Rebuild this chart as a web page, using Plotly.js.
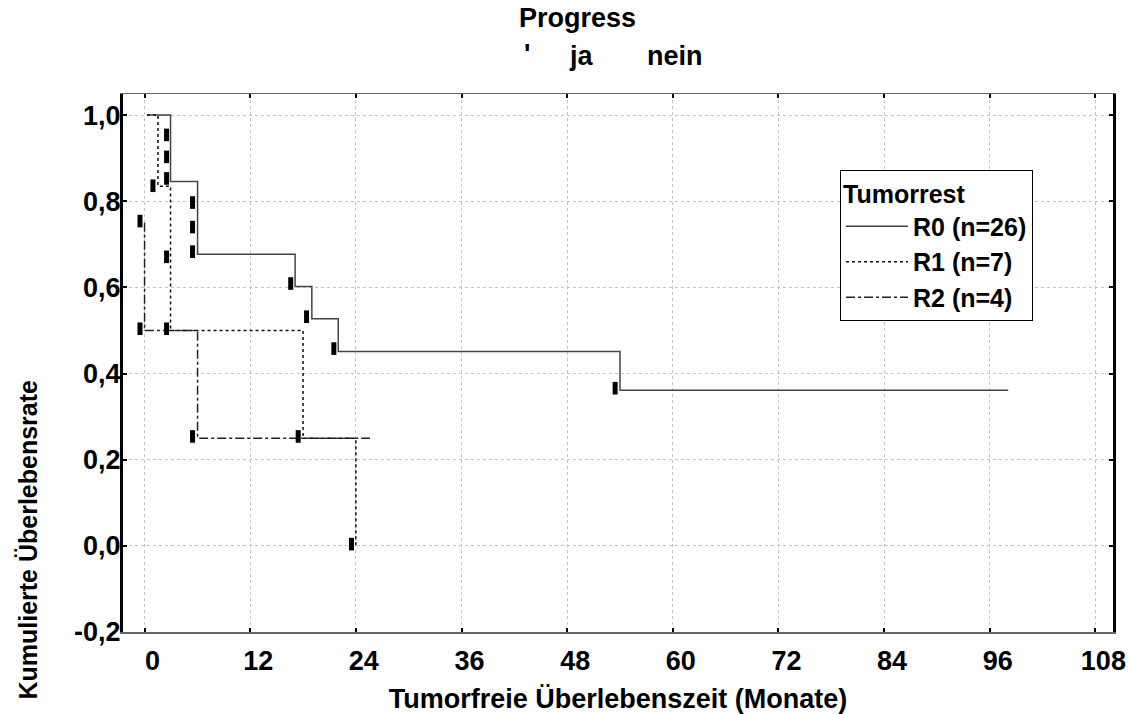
<!DOCTYPE html>
<html>
<head>
<meta charset="utf-8">
<script src="https://cdn.plot.ly/plotly-3.0.1.min.js"></script>
<style>html,body{margin:0;padding:0;background:#fff;}#chart{width:1129px;height:714px;}</style>
</head>
<body>
<div id="chart"></div>
<script>
// ---- data ----
const groupNames = ["R0 (n=26)", "R1 (n=7)", "R2 (n=4)"];

const r0Months = [0.27, 2.95, 6.02, 17.1, 19.0, 22.0, 54.0, 98.1];
const r0Surv   = [1.0, 0.846, 0.677, 0.602, 0.527, 0.451, 0.361, 0.361];

const r1Months = [0.27, 1.52, 2.95, 18.0, 24.0];
const r1Surv   = [1.0, 0.835, 0.5, 0.25, 0.0];

const r2Months = [0.0, 0.0, 6.02, 25.6];
const r2Surv   = [0.75, 0.5, 0.25, 0.25];

const r0CensMonths = [2.5, 2.5, 2.5, 5.45, 5.45, 5.45, 16.6, 18.4, 21.5, 53.45];
const r0CensSurv   = [0.954, 0.903, 0.853, 0.797, 0.740, 0.683, 0.609, 0.532, 0.458, 0.366];
const r1CensMonths = [0.95, 2.5, 2.5, 17.45, 23.5];
const r1CensSurv   = [0.836, 0.671, 0.504, 0.254, 0.004];
const r2CensMonths = [-0.52, -0.52, 5.45];
const r2CensSurv   = [0.754, 0.504, 0.254];

const xTickVals = [0, 12, 24, 36, 48, 60, 72, 84, 96, 108];
const xTickText = ["0", "12", "24", "36", "48", "60", "72", "84", "96", "108"];
const yTickVals = [-0.2, 0.0, 0.2, 0.4, 0.6, 0.8, 1.0];
const yTickText = ["-0,2", "0,0", "0,2", "0,4", "0,6", "0,8", "1,0"];

const titleLine1 = "Progress";
const titleLine2Parts = ["'", "ja", "nein"];
const xTitle = "Tumorfreie Überlebenszeit (Monate)";
const yTitle = "Kumulierte Überlebensrate";
const legendTitle = "Tumorrest";

// ---- chart ----
const FONT = "'Liberation Sans', Arial, sans-serif";
const lineStyles = [
  {color: "#444", width: 1.5, dash: "solid"},
  {color: "#111", width: 1.5, dash: "dot"},
  {color: "#222", width: 1.5, dash: "dashdot"}
];
const series = [[r0Months, r0Surv], [r1Months, r1Surv], [r2Months, r2Surv]];
const cens = [[r0CensMonths, r0CensSurv], [r1CensMonths, r1CensSurv], [r2CensMonths, r2CensSurv]];

const traces = [];
series.forEach((s, i) => {
  traces.push({
    x: s[0], y: s[1], type: "scatter", mode: "lines",
    line: Object.assign({shape: "hv"}, lineStyles[i]),
    name: groupNames[i], showlegend: true, hoverinfo: "skip"
  });
});
cens.forEach((c, i) => {
  traces.push({
    x: c[0], y: c[1], type: "scatter", mode: "markers",
    marker: {symbol: "line-ns-open", size: 9, line: {width: 5, color: "#000"}, color: "#000"},
    showlegend: false, hoverinfo: "skip"
  });
});

const pl = 123, pr = 1113, pt = 94, pb = 632.5;
const px = v => (v - pl) / (pr - pl);
const py = v => (pb - v) / (pb - pt);
const big = {family: FONT, size: 27, color: "#000", weight: "bold"};

const layout = {
  width: 1129, height: 714,
  margin: {l: pl, r: 1129 - pr, t: pt, b: 714 - pb, pad: 0},
  paper_bgcolor: "#fff", plot_bgcolor: "#fff",
  font: {family: FONT, color: "#000"},
  showlegend: true,
  legend: {
    x: px(840), y: py(170), xanchor: "left", yanchor: "top",
    bgcolor: "#fff", bordercolor: "#000", borderwidth: 1,
    font: {family: FONT, size: 25, color: "#000", weight: "bold"},
    title: {text: legendTitle, font: {family: FONT, size: 25, color: "#000", weight: "bold"}},
    tracegroupgap: 0, itemwidth: 62
  },
  xaxis: {
    range: [-2.45, 110], tickvals: xTickVals, ticktext: xTickText,
    ticks: "inside", ticklen: 4, tickwidth: 2, tickcolor: "#000",
    showline: true, linecolor: "#666", linewidth: 1.5, mirror: "ticks",
    showgrid: true, gridcolor: "#c4c4c4", griddash: "dot", gridwidth: 1,
    zeroline: false, ticklabelshift: 8, ticklabelstandoff: 4,
    tickfont: big,
    title: {text: xTitle, standoff: 14, font: big}
  },
  yaxis: {
    range: [-0.2, 1.049], tickvals: yTickVals, ticktext: yTickText,
    ticks: "inside", ticklen: 4, tickwidth: 2, tickcolor: "#000",
    showline: true, linecolor: "#000", linewidth: 3, mirror: "ticks",
    showgrid: true, gridcolor: "#c4c4c4", griddash: "dot", gridwidth: 1,
    zeroline: false, ticklabelstandoff: -6,
    tickfont: big
  },
  annotations: [
    {text: titleLine1, xref: "paper", yref: "paper", x: px(577), y: py(18), xanchor: "center", yanchor: "middle", showarrow: false, font: big},
    {text: titleLine2Parts[0], xref: "paper", yref: "paper", x: px(527), y: py(54), xanchor: "center", yanchor: "middle", showarrow: false, font: big},
    {text: titleLine2Parts[1], xref: "paper", yref: "paper", x: px(581), y: py(56), xanchor: "center", yanchor: "middle", showarrow: false, font: big},
    {text: titleLine2Parts[2], xref: "paper", yref: "paper", x: px(675), y: py(56), xanchor: "center", yanchor: "middle", showarrow: false, font: big},
    {text: yTitle, xref: "paper", yref: "paper", x: px(28), y: py(540), xanchor: "center", yanchor: "middle", textangle: -90, showarrow: false,
     font: {family: FONT, size: 25, color: "#000", weight: "bold"}}
  ]
};

Plotly.newPlot("chart", traces, layout, {displayModeBar: false, staticPlot: true});
</script>
</body>
</html>
